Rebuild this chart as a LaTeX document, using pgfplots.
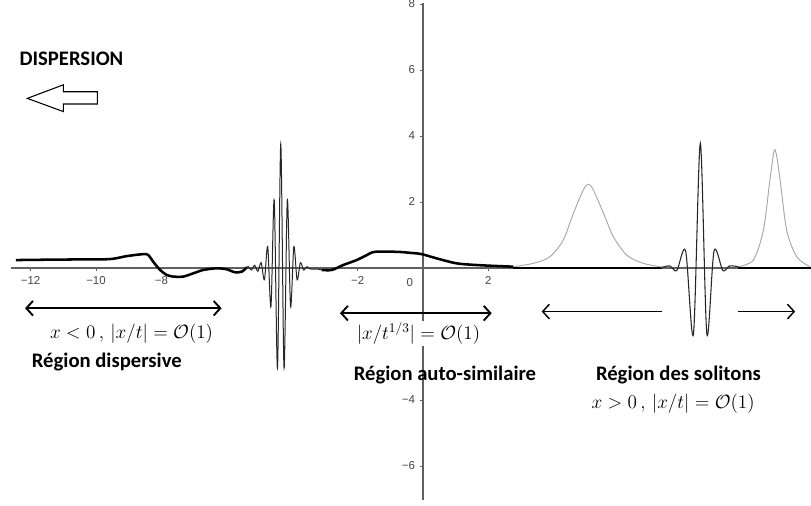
\documentclass[border=0pt]{standalone}
\usepackage[no-math]{fontspec}
\setmainfont{Carlito}
\newfontfamily\tickfont{Liberation Sans}
\usepackage{pgfplots}
\pgfplotsset{compat=1.18}
\usetikzlibrary{arrows.meta}

\begin{document}
\begin{tikzpicture}
\begin{axis}[
    x=24.525pt, y=24.75pt,
    xmin=-12.6, xmax=11.865,
    ymin=-7.03, ymax=8.02,
    axis lines=middle,
    axis line style={-, draw=gray!75!black, line width=0.9pt},
    xtick={-12,-10,-8,-2,2},
    xticklabels={−12,−10,−8,−2,2},
    ytick={-6,-4,2,4,6,8},
    yticklabels={−6,−4,2,4,6,8},
    tick align=outside,
    major tick length=2.5pt,
    tick style={gray!75!black, line width=0.6pt},
    tick label style={font=\tickfont\fontsize{8.6}{9}\selectfont, text=gray!55!black},
    clip=false,
]
% bounding box of the whole picture
\coordinate (bbsw) at (axis cs:-12.936,-7.212);
\coordinate (bbne) at (axis cs:11.865,8.121);

% black axis pieces in the soliton region
\addplot[black, line width=0.8pt] coordinates {(2.76,0)(7.30,0)};
\addplot[black, line width=0.8pt] coordinates {(9.64,0)(11.865,0)};

% dispersive region (thick)
\addplot[black, line width=1.9pt, smooth] coordinates {
(-12.45,0.24)(-11.62,0.25)(-10.5,0.26)(-9.57,0.27)(-9.06,0.36)(-8.55,0.42)(-8.40,0.39)
(-8.25,0.19)(-8.04,-0.06)(-7.84,-0.21)(-7.64,-0.26)(-7.33,-0.26)(-7.02,-0.16)(-6.72,-0.06)
(-6.31,-0.01)(-6.00,-0.04)(-5.75,-0.13)(-5.54,-0.11)(-5.39,0.02)
};

% wave packet (thin)
\addplot[black!85, line width=0.75pt, smooth, tension=0.5] coordinates {
(-5.39,0.02)(-5.35,0.05)(-5.25,-0.06)(-5.15,0.08)(-5.05,-0.10)(-4.95,0.16)(-4.85,-0.36)
(-4.75,0.65)(-4.65,-1.17)(-4.55,2.06)(-4.45,-3.04)(-4.35,3.76)(-4.25,-3.04)(-4.15,2.06)
(-4.05,-1.17)(-3.95,0.65)(-3.85,-0.36)(-3.75,0.16)(-3.65,-0.06)(-3.55,0.04)(-3.45,-0.03)
(-3.25,-0.03)(-3.10,-0.06)
};

% self-similar region (thick)
\addplot[black, line width=1.9pt, smooth] coordinates {
(-3.10,-0.06)(-2.79,-0.06)(-2.44,0.09)(-2.03,0.24)(-1.72,0.39)(-1.47,0.49)(-0.80,0.49)
(-0.40,0.46)(-0.04,0.42)(0.42,0.29)(1.03,0.14)(1.64,0.09)(2.26,0.06)(2.76,0.04)
};

% solitons (thin grey)
\addplot[gray!70, line width=0.7pt, smooth] coordinates {
(2.76,0.04)(3.37,0.14)(3.88,0.34)(4.29,0.85)(4.60,1.66)(4.90,2.36)(5.06,2.54)(5.21,2.36)
(5.52,1.66)(5.82,0.95)(6.23,0.39)(6.74,0.14)(7.25,0.04)(7.30,0.02)
};
\addplot[gray!70, line width=0.7pt, smooth] coordinates {
(9.64,0.04)(10.10,0.24)(10.41,1.15)(10.61,2.67)(10.76,3.58)(10.92,2.67)(11.12,1.15)
(11.43,0.34)(11.83,0.04)
};

% central wave in the soliton region
\addplot[black!85, line width=0.8pt, smooth, tension=0.5] coordinates {
(7.30,0.02)(7.55,0.06)(7.76,-0.08)(8.03,0.52)(8.27,-2.0)(8.48,3.78)(8.68,-2.0)
(8.90,0.52)(9.17,-0.08)(9.37,0.06)(9.64,0.04)
};

% region arrows
\draw[{Straight Barb[length=5pt,width=11pt]}-{Straight Barb[length=5pt,width=11pt]}, line width=1.4pt]
  (axis cs:-12.17,-1.22) -- (axis cs:-6.16,-1.22);
\draw[{Straight Barb[length=5pt,width=11pt]}-{Straight Barb[length=5pt,width=11pt]}, line width=1.4pt]
  (axis cs:-2.54,-1.37) -- (axis cs:2.10,-1.37);
\draw[-{Straight Barb[length=5pt,width=11pt]}, line width=1.1pt]
  (axis cs:7.30,-1.32) -- (axis cs:3.63,-1.32);
\draw[-{Straight Barb[length=5pt,width=11pt]}, line width=1.1pt]
  (axis cs:9.64,-1.32) -- (axis cs:11.38,-1.32);

% hollow arrow
\draw[line width=0.8pt, fill=white] (axis cs:-9.96,5.34) -- (axis cs:-11.0,5.34) -- (axis cs:-11.0,5.55)
  -- (axis cs:-12.10,5.14) -- (axis cs:-11.0,4.74) -- (axis cs:-11.0,4.97) -- (axis cs:-9.96,4.97) -- cycle;

% texts
\node[font=\bfseries\fontsize{15.5}{18}\selectfont] at (axis cs:-10.75,6.35) {DISPERSION};
\node[font=\fontsize{14}{16}\selectfont] at (axis cs:-8.91,-1.98) {$x<0\,,\,|x/t|=\mathcal{O}(1)$};
\node[font=\bfseries\fontsize{15.5}{18}\selectfont] at (axis cs:-9.67,-2.84) {Région dispersive};
\node[font=\fontsize{14}{16}\selectfont, fill=white, inner sep=1pt] at (axis cs:-0.14,-1.98) {$|x/t^{1/3}|=\mathcal{O}(1)$};
\node[font=\bfseries\fontsize{15.5}{18}\selectfont] at (axis cs:0.67,-3.24) {Région auto-similaire};
\node[font=\bfseries\fontsize{15.5}{18}\selectfont] at (axis cs:7.81,-3.24) {Région des solitons};
\node[font=\fontsize{14}{16}\selectfont] at (axis cs:7.65,-4.10) {$x>0\,,\,|x/t|=\mathcal{O}(1)$};
\node[font=\tickfont\fontsize{8.6}{9}\selectfont, text=gray!55!black] at (axis cs:-0.4,-0.45) {0};
\end{axis}
\pgfresetboundingbox
\path[use as bounding box] (bbsw) rectangle (bbne);
\end{tikzpicture}
\end{document}
